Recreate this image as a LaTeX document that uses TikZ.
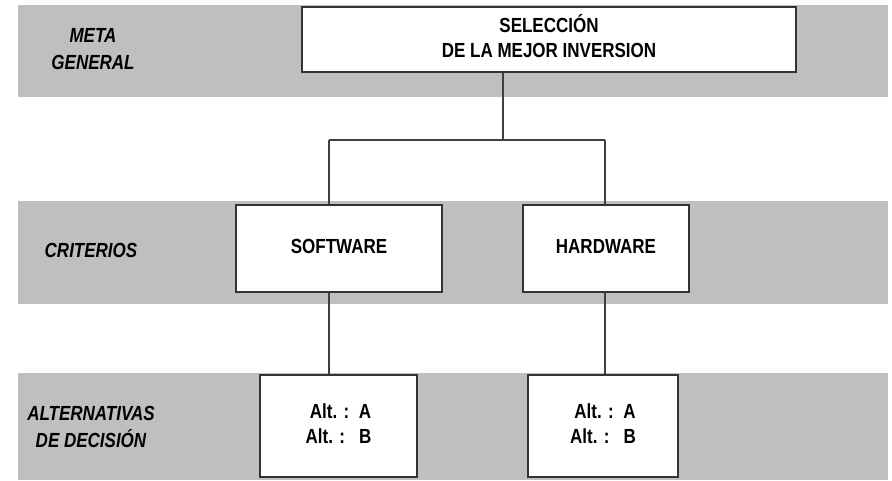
\documentclass[tikz,border=0pt]{standalone}
\usepackage{fontspec}
\usepackage{graphicx}
\setmainfont{Liberation Sans}
\newcommand\tallrows[2][0pt]{\raisebox{#1}{\scalebox{1}[1.2]{\begin{tabular}{@{}c@{}}#2\end{tabular}}}}
\begin{document}
\begin{tikzpicture}[x=1pt,y=-1pt,
  band/.style={fill=black!25,draw=none},
  levelbox/.style={draw=black!80,line width=1.3pt,fill=white,inner sep=0pt,
    font=\fontsize{17}{20.4}\selectfont\bfseries},
  levellabel/.style={inner sep=0pt,align=center,
    font=\fontsize{17}{22.5}\selectfont\bfseries\itshape},
  link/.style={draw=black!75,line width=1.1pt}]
\useasboundingbox (0,0) rectangle (892,480);
% horizontal level bands
\path[band] (18,5) rectangle (888,97);
\path[band] (18,201) rectangle (888,304);
\path[band] (18,373) rectangle (888,480);
% level names
\node[levellabel] (lgoal) at (93,51) {\tallrows{META\\GENERAL}};
\node[levellabel] (lcrit) at (91,252) {\tallrows{CRITERIOS}};
\node[levellabel] (lalt) at (91,429) {\tallrows{ALTERNATIVAS\\DE DECISIÓN}};
% junction points of the tree
\coordinate (jc) at (503,140);
\coordinate (jl) at (329,140);
\coordinate (jr) at (605,140);
% connectors
\draw[link] (jc |- 0,72) -- (jc);
\draw[link] (jl) -- (jr);
\draw[link] (jl) -- (jl |- 0,205);
\draw[link] (jr) -- (jr |- 0,205);
\draw[link] (jl |- 0,292) -- (jl |- 0,375);
\draw[link] (jr |- 0,292) -- (jr |- 0,375);
% boxes
\node[levelbox,minimum width=494pt,minimum height=65pt] (goal) at (549,39.5)
  {\tallrows[4pt]{SELECCIÓN\\DE LA MEJOR INVERSION}};
\node[levelbox,minimum width=206pt,minimum height=87pt] (sw) at (339,248.5)
  {\tallrows[4pt]{SOFTWARE}};
\node[levelbox,minimum width=166pt,minimum height=87pt] (hw) at (606,248.5)
  {\tallrows[4pt]{HARDWARE}};
\node[levelbox,minimum width=157pt,minimum height=102pt] (alta) at (338.5,426)
  {\tallrows{\hspace*{4pt}Alt. :\ \ A\\Alt. :\ \ \ B}};
\node[levelbox,minimum width=150pt,minimum height=102pt] (altb) at (603,426)
  {\tallrows{\hspace*{4pt}Alt. :\ \ A\\Alt. :\ \ \ B}};
\end{tikzpicture}
\end{document}
